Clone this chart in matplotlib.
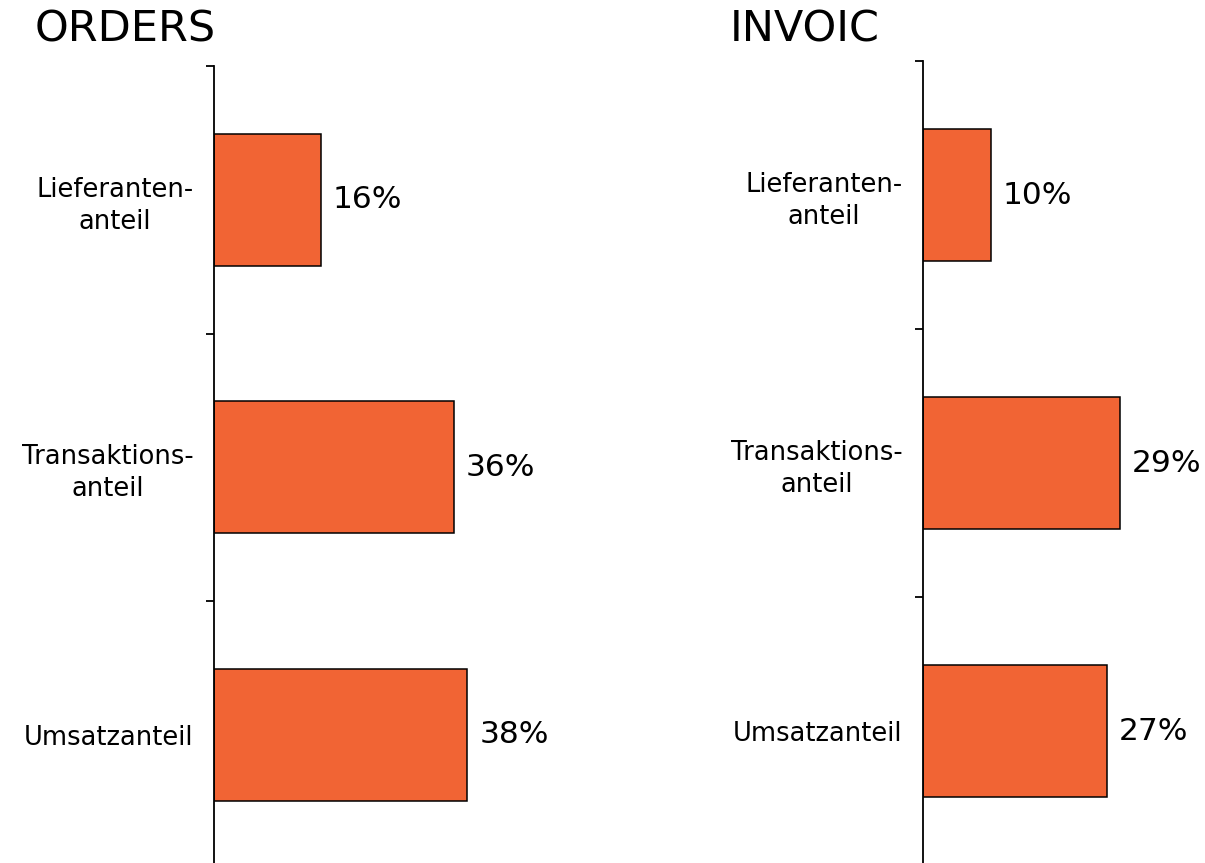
import matplotlib
matplotlib.use("Agg")
import matplotlib.pyplot as plt

# data
categories = ["Lieferanten-\nanteil", "Transaktions-\nanteil", "Umsatzanteil"]
orders = [16, 36, 38]
invoic = [10, 29, 27]
titles = ["ORDERS", "INVOIC"]

bar_color = "#F16434"
plt.rcParams['font.family'] = ['DejaVu Sans']

fig = plt.figure(figsize=(12.05, 8.63), dpi=100)

ax1 = fig.add_axes([214 / 1205, -5.5 / 863, 400 / 1205, 802.5 / 863])
ax2 = fig.add_axes([923 / 1205, -2 / 863, 272 / 1205, 804 / 863])


def draw_panel(ax, values, xmax):
    y = list(range(len(categories)))
    bars = ax.barh(y, values, height=0.495, color=bar_color,
                   edgecolor="black", linewidth=1.1)
    ax.set_xlim(0, xmax)
    ax.set_ylim(len(categories) - 0.5, -0.5)
    for s in ["top", "right", "bottom"]:
        ax.spines[s].set_visible(False)
    ax.spines["left"].set_linewidth(1.3)
    ax.set_xticks([])
    ax.set_yticks(y)
    ax.set_yticklabels(categories, fontsize=18.5, multialignment="center",
                       linespacing=1.3)
    ax.tick_params(axis="y", which="major", length=0, pad=15)
    ax.set_yticks([-0.5, 0.5, 1.5], minor=True)
    ax.tick_params(axis="y", which="minor", length=6, width=1.3,
                   direction="out")
    for b, v in zip(bars, values):
        ax.annotate(f"{v}%", (b.get_width(), b.get_y() + b.get_height() / 2),
                    xytext=(8.5, 0), textcoords="offset points",
                    va="center", ha="left", fontsize=22.5)


draw_panel(ax1, orders, 60)
draw_panel(ax2, invoic, 40)

fig.text(35 / 1205, 1 - 41 / 863, titles[0], fontsize=31, ha="left",
         va="baseline")
fig.text(730 / 1205, 1 - 41 / 863, titles[1], fontsize=31, ha="left",
         va="baseline")

plt.savefig("out.png", dpi=100)
